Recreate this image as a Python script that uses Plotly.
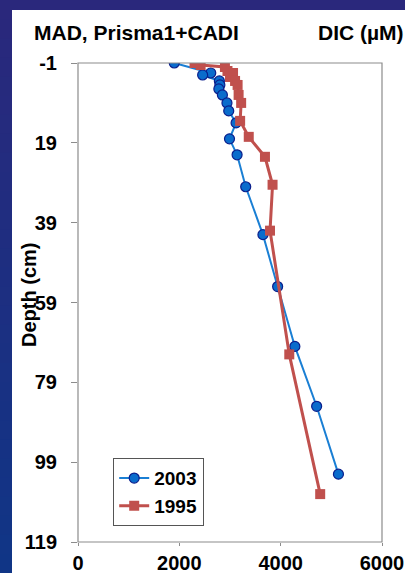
import plotly.graph_objects as go

# Data
depth_2003 = [-1, 1.5, 2, 3.5, 4.5, 5.5, 7, 9, 11, 14, 18, 22, 30, 42, 55, 70, 85, 102]
dic_2003 = [1900, 2620, 2460, 2790, 2800, 2780, 2850, 2940, 2975, 3120, 2990, 3140, 3310, 3650, 3940, 4280, 4710, 5140]

depth_1995 = [-1, -0.5, 0, 1, 1.5, 2.5, 3.5, 4.5, 7, 9, 13.5, 17.5, 22.5, 29.5, 41, 72, 107]
dic_1995 = [2300, 2420, 2900, 2950, 3060, 3000, 3100, 3150, 3170, 3220, 3200, 3370, 3690, 3840, 3790, 4170, 4780]

y_ticks = [-1, 19, 39, 59, 79, 99, 119]
x_ticks = [0, 2000, 4000, 6000]

W, H = 405, 573
L, R, T, B = 78, 23, 63, 31
pw, ph = W - L - R, H - T - B

def px_to_paper_x(px):
    return (px - L) / pw

def py_to_paper_y(py):
    return (H - B - py) / ph

fig = go.Figure()

fig.add_trace(go.Scatter(
    x=dic_2003, y=depth_2003, name="2003", mode="lines+markers",
    line=dict(color="#1a7fd4", width=2),
    marker=dict(symbol="circle", size=10, color="#0a6ccc", line=dict(color="#0b1f8c", width=1.2)),
))
fig.add_trace(go.Scatter(
    x=dic_1995, y=depth_1995, name="1995", mode="lines+markers",
    line=dict(color="#c0504d", width=3),
    marker=dict(symbol="square", size=10, color="#c0504d", line=dict(width=0)),
))

shapes = []
# gradient background strips
n = 30
top = (0x2a, 0x28, 0x7c)
bot = (0x10, 0x35, 0x86)
for i in range(n):
    f = i / (n - 1)
    c = tuple(int(round(top[k] + (bot[k] - top[k]) * f)) for k in range(3))
    y0 = i * H / n
    y1 = (i + 1) * H / n + 1
    shapes.append(dict(type="rect", xref="paper", yref="paper",
                       x0=px_to_paper_x(-2), x1=px_to_paper_x(W + 2),
                       y0=py_to_paper_y(y1), y1=py_to_paper_y(y0),
                       fillcolor="rgb(%d,%d,%d)" % c, line=dict(width=0), layer="below"))
# white panel
shapes.append(dict(type="rect", xref="paper", yref="paper",
                   x0=px_to_paper_x(12), x1=px_to_paper_x(W + 2),
                   y0=py_to_paper_y(H + 2), y1=py_to_paper_y(10),
                   fillcolor="white", line=dict(width=0), layer="below"))
# plot border
shapes.append(dict(type="rect", xref="paper", yref="paper", x0=0, x1=1, y0=0, y1=1,
                   line=dict(color="#8c8c8c", width=1.2), fillcolor="rgba(0,0,0,0)", layer="above"))

font_b = "Liberation Sans"

fig.update_layout(
    width=W, height=H,
    margin=dict(l=L, r=R, t=T, b=B, autoexpand=False),
    paper_bgcolor="#1e2e80",
    plot_bgcolor="white",
    shapes=shapes,
    showlegend=True,
    legend=dict(
        x=px_to_paper_x(113), y=py_to_paper_y(458), xanchor="left", yanchor="top",
        bgcolor="white", bordercolor="#555555", borderwidth=1.2,
        font=dict(family=font_b, size=19, color="black", weight="bold"),
        itemwidth=30, tracegroupgap=0,
    ),
    annotations=[
        dict(text="<b>MAD, Prisma1+CADI</b>", xref="paper", yref="paper",
             x=px_to_paper_x(32), y=py_to_paper_y(32), xanchor="left", yanchor="middle",
             showarrow=False, font=dict(family=font_b, size=21, color="black")),
        dict(text="<b>DIC (µM)</b>", xref="paper", yref="paper",
             x=px_to_paper_x(316), y=py_to_paper_y(32), xanchor="left", yanchor="middle",
             showarrow=False, font=dict(family=font_b, size=21, color="black")),
        dict(text="<b>Depth (cm)</b>", xref="paper", yref="paper",
             x=px_to_paper_x(29), y=py_to_paper_y(295), xanchor="center", yanchor="middle",
             textangle=-90, showarrow=False, font=dict(family=font_b, size=20, color="black")),
    ],
    xaxis=dict(
        range=[0, 6000], tickvals=x_ticks, ticktext=[str(v) for v in x_ticks],
        showgrid=False, zeroline=False, showline=False, automargin=False,
        ticks="outside", ticklen=3, tickcolor="#8c8c8c", tickwidth=1,
        tickfont=dict(family=font_b, size=20, color="black", weight="bold"),
        side="bottom", ticklabelstandoff=0,
    ),
    yaxis=dict(
        range=[119, -1], tickvals=y_ticks, ticktext=[str(v) for v in y_ticks],
        showgrid=False, zeroline=False, showline=False, automargin=False,
        ticks="outside", ticklen=6, tickcolor="#8c8c8c", tickwidth=1,
        tickfont=dict(family=font_b, size=20, color="black", weight="bold"),
        ticklabelstandoff=10,
    ),
)

fig.write_html("out.html", config=dict(displayModeBar=False),
               post_script="document.body.style.margin='0px';document.body.style.overflow='hidden';")
